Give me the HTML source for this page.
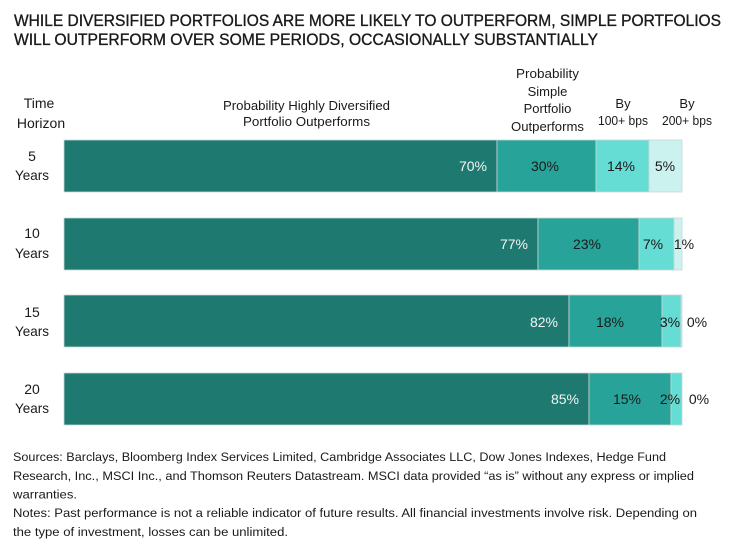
<!DOCTYPE html>
<html><head><meta charset="utf-8"><style>
html,body{margin:0;padding:0;background:#fff;}
svg{display:block;}
text{font-family:"Liberation Sans",sans-serif;fill:#1a1a1a;}
</style></head><body>
<svg width="736" height="544" viewBox="0 0 736 544" xmlns="http://www.w3.org/2000/svg">
<!-- Title -->
<text x="14" y="26" font-size="16.5" stroke="#1a1a1a" stroke-width="0.35" textLength="707" lengthAdjust="spacingAndGlyphs">WHILE DIVERSIFIED PORTFOLIOS ARE MORE LIKELY TO OUTPERFORM, SIMPLE PORTFOLIOS</text>
<text x="14" y="45" font-size="16.5" stroke="#1a1a1a" stroke-width="0.35" textLength="584" lengthAdjust="spacingAndGlyphs">WILL OUTPERFORM OVER SOME PERIODS, OCCASIONALLY SUBSTANTIALLY</text>

<!-- Headers -->
<g font-size="14" text-anchor="middle">
<text x="39" y="108">Time</text>
<text x="41" y="128">Horizon</text>
</g>
<g font-size="13" text-anchor="middle">
<text x="306.5" y="110" textLength="167" lengthAdjust="spacingAndGlyphs">Probability Highly Diversified</text>
<text x="306.5" y="126" textLength="127" lengthAdjust="spacingAndGlyphs">Portfolio Outperforms</text>
<text x="547.5" y="78" textLength="63" lengthAdjust="spacingAndGlyphs">Probability</text>
<text x="547.5" y="96">Simple</text>
<text x="547.5" y="113">Portfolio</text>
<text x="547.5" y="131" textLength="73" lengthAdjust="spacingAndGlyphs">Outperforms</text>
<text x="623" y="108">By</text>
<text x="623" y="125" textLength="50" lengthAdjust="spacingAndGlyphs">100+ bps</text>
<text x="687" y="108">By</text>
<text x="687" y="125" textLength="50" lengthAdjust="spacingAndGlyphs">200+ bps</text>
</g>

<!-- Row labels -->
<g font-size="14" text-anchor="middle">
<text x="32" y="161">5</text>
<text x="32" y="180" textLength="34" lengthAdjust="spacingAndGlyphs">Years</text>
<text x="32" y="238">10</text>
<text x="32" y="258" textLength="34" lengthAdjust="spacingAndGlyphs">Years</text>
<text x="32" y="317">15</text>
<text x="32" y="336" textLength="34" lengthAdjust="spacingAndGlyphs">Years</text>
<text x="32" y="394">20</text>
<text x="32" y="413" textLength="34" lengthAdjust="spacingAndGlyphs">Years</text>
</g>

<!-- Bars -->
<g stroke="#c5d8d5" stroke-width="0.8">
<rect x="64" y="140" width="433" height="52" fill="#1e7a71"/>
<rect x="497" y="140" width="99" height="52" fill="#27a399"/>
<rect x="596" y="140" width="53" height="52" fill="#66ddd4"/>
<rect x="649" y="140" width="33" height="52" fill="#ccf2ef"/>

<rect x="64" y="218" width="474" height="52" fill="#1e7a71"/>
<rect x="538" y="218" width="101" height="52" fill="#27a399"/>
<rect x="639" y="218" width="35" height="52" fill="#66ddd4"/>
<rect x="674" y="218" width="8" height="52" fill="#ccf2ef"/>

<rect x="64" y="295" width="505" height="52" fill="#1e7a71"/>
<rect x="569" y="295" width="93" height="52" fill="#27a399"/>
<rect x="662" y="295" width="19" height="52" fill="#66ddd4"/>
<rect x="681" y="295" width="1" height="52" fill="#ccf2ef"/>

<rect x="64" y="373" width="525" height="52" fill="#1e7a71"/>
<rect x="589" y="373" width="82" height="52" fill="#27a399"/>
<rect x="671" y="373" width="11" height="52" fill="#66ddd4"/>
</g>

<!-- Value labels -->
<g font-size="14">
<text x="487" y="171" text-anchor="end" style="fill:#f4f4f4">70%</text>
<text x="545" y="171" text-anchor="middle">30%</text>
<text x="621" y="171" text-anchor="middle">14%</text>
<text x="665" y="171" text-anchor="middle">5%</text>

<text x="528" y="249" text-anchor="end" style="fill:#f4f4f4">77%</text>
<text x="587" y="249" text-anchor="middle">23%</text>
<text x="653" y="249" text-anchor="middle">7%</text>
<text x="684" y="249" text-anchor="middle">1%</text>

<text x="558" y="327" text-anchor="end" style="fill:#f4f4f4">82%</text>
<text x="610" y="327" text-anchor="middle">18%</text>
<text x="670" y="327" text-anchor="middle">3%</text>
<text x="697" y="327" text-anchor="middle">0%</text>

<text x="579" y="404" text-anchor="end" style="fill:#f4f4f4">85%</text>
<text x="627" y="404" text-anchor="middle">15%</text>
<text x="670" y="404" text-anchor="middle">2%</text>
<text x="699" y="404" text-anchor="middle">0%</text>
</g>

<!-- Footnotes -->
<g font-size="12.2">
<text x="13" y="461" textLength="653" lengthAdjust="spacingAndGlyphs">Sources: Barclays, Bloomberg Index Services Limited, Cambridge Associates LLC, Dow Jones Indexes, Hedge Fund</text>
<text x="13" y="480" textLength="681" lengthAdjust="spacingAndGlyphs">Research, Inc., MSCI Inc., and Thomson Reuters Datastream. MSCI data provided “as is” without any express or implied</text>
<text x="13" y="498.5" textLength="64" lengthAdjust="spacingAndGlyphs">warranties.</text>
<text x="13" y="517" textLength="684" lengthAdjust="spacingAndGlyphs">Notes: Past performance is not a reliable indicator of future results. All financial investments involve risk. Depending on</text>
<text x="13" y="536" textLength="275" lengthAdjust="spacingAndGlyphs">the type of investment, losses can be unlimited.</text>
</g>
</svg>
</body></html>
